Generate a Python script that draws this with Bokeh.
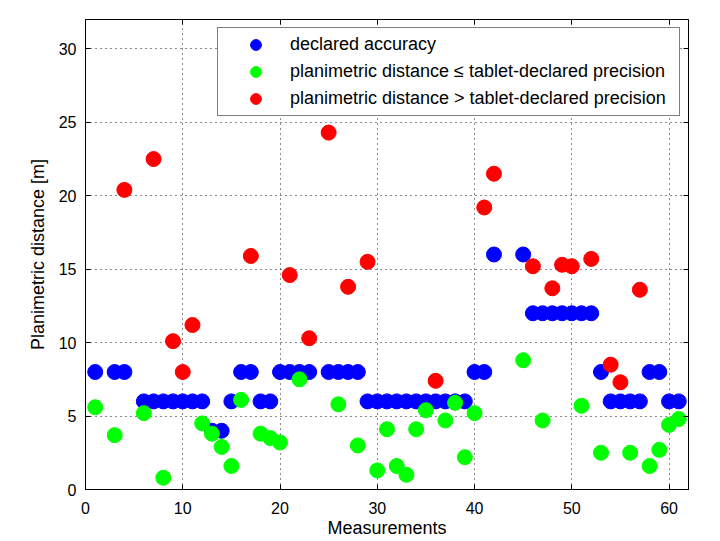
from bokeh.plotting import figure
from bokeh.models import LinearAxis, FixedTicker, Legend, LegendItem
from bokeh.embed import file_html
from bokeh.resources import INLINE

# ---- data ----
measurements = [1, 3, 4, 6, 7, 8, 9, 10, 11, 12, 13, 14, 15, 16, 17, 18, 19, 20,
                21, 22, 23, 25, 26, 27, 28, 29, 30, 31, 32, 33, 34, 35, 36, 37,
                38, 39, 40, 41, 42, 45, 46, 47, 48, 49, 50, 51, 52, 53, 54, 55,
                56, 57, 58, 59, 60, 61]
declared_accuracy = [8, 8, 8, 6, 6, 6, 6, 6, 6, 6, 4, 4, 6, 8, 8, 6, 6, 8,
                     8, 8, 8, 8, 8, 8, 8, 6, 6, 6, 6, 6, 6, 6, 6, 6,
                     6, 6, 8, 8, 16, 16, 12, 12, 12, 12, 12, 12, 12, 8, 6, 6,
                     6, 6, 8, 8, 6, 6]
planimetric_distance = [5.6, 3.7, 20.4, 5.2, 22.5, 0.8, 10.1, 8.0, 11.2, 4.5, 3.8, 2.9, 1.6, 6.1, 15.9, 3.8, 3.5, 3.2,
                        14.6, 7.5, 10.3, 24.3, 5.8, 13.8, 3.0, 15.5, 1.3, 4.1, 1.6, 1.0, 4.1, 5.4, 7.4, 4.7,
                        5.9, 2.2, 5.2, 19.2, 21.5, 8.8, 15.2, 4.7, 13.7, 15.3, 15.2, 5.7, 15.7, 2.5, 8.5, 7.3,
                        2.5, 13.6, 1.6, 2.7, 4.4, 4.8]
x_ticks = [0, 10, 20, 30, 40, 50, 60]
y_ticks = [0, 5, 10, 15, 20, 25, 30]
legend_labels = ["declared accuracy",
                 "planimetric distance \u2264 tablet-declared precision",
                 "planimetric distance > tablet-declared precision"]

within_x = [m for m, a, d in zip(measurements, declared_accuracy, planimetric_distance) if d <= a]
within_y = [d for a, d in zip(declared_accuracy, planimetric_distance) if d <= a]
beyond_x = [m for m, a, d in zip(measurements, declared_accuracy, planimetric_distance) if d > a]
beyond_y = [d for a, d in zip(declared_accuracy, planimetric_distance) if d > a]

FONT = "Liberation Sans"

p = figure(frame_width=603, frame_height=470, x_range=(0, 62), y_range=(0, 32),
           output_backend="svg", toolbar_location=None,
           min_border_left=85, min_border_top=19, min_border_right=12, min_border_bottom=44,
           background_fill_color="white", border_fill_color="white")
p.outline_line_color = "black"
p.outline_line_width = 1

for ax in (p.xaxis[0], p.yaxis[0]):
    ax.major_tick_in = 5
    ax.major_tick_out = 0
    ax.minor_tick_line_color = None
    ax.axis_line_color = "black"
    ax.major_tick_line_color = "black"
    ax.major_label_text_font = FONT
    ax.major_label_text_font_size = "16px"
    ax.major_label_text_color = "black"
    ax.axis_label_text_font = FONT
    ax.axis_label_text_font_size = "18px"
    ax.axis_label_text_font_style = "normal"
    ax.axis_label_text_color = "black"

p.xaxis.ticker = FixedTicker(ticks=x_ticks)
p.yaxis.ticker = FixedTicker(ticks=y_ticks)
p.xaxis.axis_label = "Measurements"
p.yaxis.axis_label = "Planimetric distance [m]"
p.xaxis.major_label_standoff = 12
p.yaxis.major_label_standoff = 9
p.xaxis.axis_label_standoff = 1
p.yaxis.axis_label_standoff = 8

for loc, tk in (("above", x_ticks), ("right", y_ticks)):
    ax = LinearAxis(ticker=FixedTicker(ticks=tk), major_tick_in=5, major_tick_out=0,
                    minor_tick_line_color=None,
                    major_label_overrides={t: "" for t in tk},
                    major_label_standoff=0, axis_line_color="black",
                    major_tick_line_color="black")
    p.add_layout(ax, loc)

for g in (p.xgrid[0], p.ygrid[0]):
    g.grid_line_color = "black"
    g.grid_line_dash = "1 4"
    g.grid_line_alpha = 0.9
    g.grid_line_width = 1

r_blue = p.scatter(measurements, declared_accuracy, size=15, marker="circle",
                   fill_color="#0000FF", line_color="#0000FF")
r_green = p.scatter(within_x, within_y, size=15, marker="circle",
                    fill_color="#00FF00", line_color="#00FF00")
r_red = p.scatter(beyond_x, beyond_y, size=15, marker="circle",
                  fill_color="#FF0000", line_color="#FF0000")

legend = Legend(items=[LegendItem(label=legend_labels[0], renderers=[r_blue]),
                       LegendItem(label=legend_labels[1], renderers=[r_green]),
                       LegendItem(label=legend_labels[2], renderers=[r_red])],
                location="top_right")
legend.margin = 8
legend.padding = 3
legend.spacing = 0
legend.glyph_width = 69
legend.glyph_height = 27
legend.label_height = 20
legend.label_width = 386
legend.label_standoff = 0
legend.label_text_font = FONT
legend.label_text_font_size = "18px"
legend.label_text_color = "black"
legend.border_line_color = "black"
legend.border_line_width = 1
legend.background_fill_alpha = 1.0
p.add_layout(legend)

open("out.html", "w").write(file_html(p, INLINE))
